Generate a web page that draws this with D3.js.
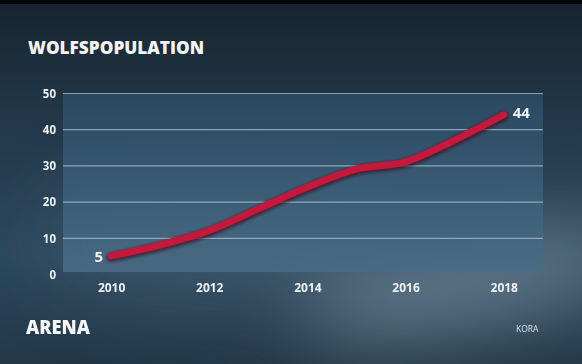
<!DOCTYPE html>
<html>
<head>
<meta charset="utf-8">
<script src="https://cdn.jsdelivr.net/npm/d3@7"></script>
<style>
  body { margin: 0; background: #1d2d3b; }
  svg { display: block; }
  text { font-family: "Open Sans", "DejaVu Sans", sans-serif; }
</style>
</head>
<body>
<svg id="chart"></svg>
<script>
// data
var years = [2010, 2011, 2012, 2013, 2014, 2015, 2016, 2017, 2018];
var wolves = [5, 8, 12, 18, 24, 29, 31, 37, 44];
var yTicks = [0, 10, 20, 30, 40, 50];
var xTicks = [2010, 2012, 2014, 2016, 2018];

var W = 582, H = 364;
var margin = {top: 93, right: 39, bottom: 90, left: 63},
    width = W - margin.left - margin.right,
    height = 274 - margin.top;

var svg = d3.select("#chart")
    .attr("width", W)
    .attr("height", H);

var defs = svg.append("defs");

// background gradients
var bg = defs.append("linearGradient").attr("id", "bg")
    .attr("x1", 0).attr("y1", 0).attr("x2", 0).attr("y2", 1);
bg.append("stop").attr("offset", "0%").attr("stop-color", "#17242f");
bg.append("stop").attr("offset", "35%").attr("stop-color", "#23394b");
bg.append("stop").attr("offset", "70%").attr("stop-color", "#2d485d");
bg.append("stop").attr("offset", "100%").attr("stop-color", "#223849");

var blur = defs.append("filter").attr("id", "blur")
    .attr("x", "-50%").attr("y", "-50%").attr("width", "200%").attr("height", "200%");
blur.append("feGaussianBlur").attr("stdDeviation", 40);

var panel = defs.append("linearGradient").attr("id", "panel")
    .attr("x1", 0).attr("y1", 0).attr("x2", 0).attr("y2", 1);
panel.append("stop").attr("offset", "0%").attr("stop-color", "#2c4a62");
panel.append("stop").attr("offset", "60%").attr("stop-color", "#3e607a");
panel.append("stop").attr("offset", "100%").attr("stop-color", "#4a6c84");

var shadow = defs.append("filter").attr("id", "shadow")
    .attr("x", "-10%").attr("y", "-10%").attr("width", "120%").attr("height", "130%");
shadow.append("feGaussianBlur").attr("stdDeviation", 1.5);

svg.append("rect").attr("width", W).attr("height", H).attr("fill", "url(#bg)");

// soft light patches in the background
var light = svg.append("g").attr("filter", "url(#blur)");
light.append("ellipse")
    .attr("cx", 470).attr("cy", 285).attr("rx", 170).attr("ry", 38)
    .attr("transform", "rotate(-12,470,285)")
    .attr("fill", "#7d96a6").attr("opacity", 0.75);
light.append("ellipse")
    .attr("cx", 230).attr("cy", 240).attr("rx", 180).attr("ry", 60)
    .attr("fill", "#4a667a").attr("opacity", 0.5);
svg.append("rect").attr("width", W).attr("height", 4).attr("fill", "#05080b");

// title
svg.append("text")
    .attr("x", 28).attr("y", 54)
    .attr("fill", "#f2f4f5")
    .style("font-size", "18px")
    .style("font-weight", "800")
    .attr("textLength", 176)
    .attr("lengthAdjust", "spacingAndGlyphs")
    .text("WOLFSPOPULATION");

var g = svg.append("g")
    .attr("transform", "translate(" + margin.left + "," + margin.top + ")");

var xScale = d3.scaleLinear().domain([2009.02, 2018.8]).range([0, width]);
var yScale = d3.scaleLinear().domain([0, 50]).range([height, 0]);

g.append("rect")
    .attr("x", 0).attr("y", 0)
    .attr("width", width).attr("height", height - 2)
    .attr("fill", "url(#panel)")
    .attr("opacity", 0.9);

// grid lines
g.append("g")
    .attr("class", "grid")
    .call(d3.axisLeft(yScale)
        .tickValues(yTicks.filter(function(d){ return d > 0; }))
        .tickSize(-width)
        .tickFormat(""))
    .call(function(s){ s.select(".domain").remove(); })
    .selectAll("line")
    .attr("stroke", "#a9c0cf")
    .attr("stroke-opacity", 0.75)
    .attr("stroke-width", 1.2);

// y labels
g.append("g")
    .call(d3.axisLeft(yScale).tickValues(yTicks).tickSize(0).tickPadding(7))
    .call(function(s){ s.select(".domain").remove(); })
    .selectAll("text")
    .attr("fill", "#f0f2f3")
    .style("font-size", "11.5px")
    .style("font-weight", "bold")
    .attr("dy", "0.38em");

// x labels
g.append("g")
    .attr("transform", "translate(0," + height + ")")
    .call(d3.axisBottom(xScale).tickValues(xTicks).tickSize(0).tickPadding(9).tickFormat(d3.format("d")))
    .call(function(s){ s.select(".domain").remove(); })
    .selectAll("text")
    .attr("fill", "#f0f2f3")
    .style("font-size", "12px")
    .style("font-weight", "bold");

var data = years.map(function(y, i){ return {year: y, value: wolves[i]}; });

var line = d3.line()
    .x(function(d){ return xScale(d.year); })
    .y(function(d){ return yScale(d.value); })
    .curve(d3.curveMonotoneX);

g.append("path")
    .datum(data)
    .attr("fill", "none")
    .attr("stroke", "#3a0d18")
    .attr("stroke-width", 9)
    .attr("stroke-linecap", "round")
    .attr("stroke-linejoin", "round")
    .attr("opacity", 0.7)
    .attr("filter", "url(#shadow)")
    .attr("transform", "translate(0,1.5)")
    .attr("d", line);

g.append("path")
    .datum(data)
    .attr("fill", "none")
    .attr("stroke", "#c5183a")
    .attr("stroke-width", 7)
    .attr("stroke-linecap", "round")
    .attr("stroke-linejoin", "round")
    .attr("d", line);

// end labels
var first = data[0], last = data[data.length - 1];
g.append("text")
    .attr("x", xScale(first.year) - 8)
    .attr("y", yScale(first.value))
    .attr("dy", "0.38em")
    .attr("text-anchor", "end")
    .attr("fill", "#f2f4f5")
    .style("font-size", "15px")
    .style("font-weight", "bold")
    .text(first.value);

g.append("text")
    .attr("x", xScale(last.year) + 9)
    .attr("y", yScale(last.value))
    .attr("dy", "0.2em")
    .attr("text-anchor", "start")
    .attr("fill", "#f2f4f5")
    .style("font-size", "15px")
    .style("font-weight", "bold")
    .text(last.value);

// footer
svg.append("text")
    .attr("x", 26).attr("y", 334)
    .attr("fill", "#f4f6f7")
    .style("font-size", "19px")
    .style("font-weight", "800")
    .attr("textLength", 64)
    .attr("lengthAdjust", "spacingAndGlyphs")
    .text("ARENA");

svg.append("text")
    .attr("x", 516).attr("y", 332)
    .attr("fill", "#d8e0e5")
    .style("font-size", "8.5px")
    .text("KORA");
</script>
</body>
</html>
